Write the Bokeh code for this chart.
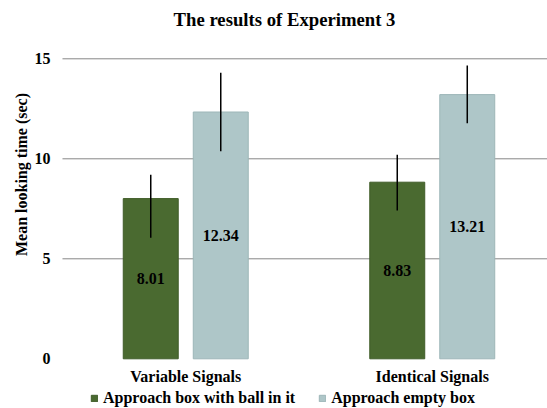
import math
from bokeh.plotting import figure
from bokeh.models import (ColumnDataSource, Range1d, FixedTicker, Label, Legend, LegendItem)
from bokeh.core.properties import value
from bokeh.embed import file_html
from bokeh.resources import INLINE

# ---- data ----
categories = ["Variable Signals", "Identical Signals"]
series_names = ["Approach box with ball in it", "Approach empty box"]
ball_means = [8.01, 8.83]
empty_means = [12.34, 13.21]
ball_err_low = [6.05, 7.42]
ball_err_high = [9.20, 10.20]
empty_err_low = [10.38, 11.78]
empty_err_high = [14.30, 14.67]
y_ticks = [0, 5, 10, 15]
grid_ticks = [5, 10, 15]

FONT = "Times"
GREEN = "#4a6a30"
GREEN_EDGE = "#3f5c28"
LIGHT = "#aec6c8"
LIGHT_EDGE = "#9db6b8"

cat_x = [i + 0.5 for i in range(len(categories))]
offset = 0.142
bar_w = 0.223

X0, X1 = -0.2515, 1.9675
Y0, Y1 = -2.485, 17.915

p = figure(width=547, height=408, output_backend="svg", toolbar_location=None,
           title_location=None,
           x_range=Range1d(X0, X1), y_range=Range1d(Y0, Y1),
           min_border_left=0, min_border_right=0, min_border_top=0, min_border_bottom=0)
p.outline_line_color = None
p.background_fill_color = "white"
p.border_fill_color = "white"
p.xgrid.visible = False
p.ygrid.visible = False

# axes placed at the data origin
p.yaxis.fixed_location = 0
p.yaxis.ticker = FixedTicker(ticks=y_ticks)
p.yaxis.axis_line_color = None
p.yaxis.major_tick_line_color = None
p.yaxis.minor_tick_line_color = None
p.yaxis.major_tick_out = 0
p.yaxis.major_tick_in = 0
p.yaxis.major_label_standoff = 12
p.yaxis.major_label_text_font = FONT
p.yaxis.major_label_text_font_style = "bold"
p.yaxis.major_label_text_font_size = "16px"
p.yaxis.major_label_text_color = "black"

p.xaxis.fixed_location = 0
p.xaxis.ticker = FixedTicker(ticks=cat_x)
p.xaxis.major_label_overrides = {x: c for x, c in zip(cat_x, categories)}
p.xaxis.axis_line_color = None
p.xaxis.major_tick_line_color = None
p.xaxis.minor_tick_line_color = None
p.xaxis.major_tick_out = 0
p.xaxis.major_tick_in = 0
p.xaxis.major_label_standoff = 9
p.xaxis.major_label_text_font = FONT
p.xaxis.major_label_text_font_style = "bold"
p.xaxis.major_label_text_font_size = "16px"
p.xaxis.major_label_text_color = "black"

# horizontal grid lines from the value axis to the right edge
p.segment(x0=[0] * len(grid_ticks), y0=grid_ticks, x1=[X1] * len(grid_ticks), y1=grid_ticks,
          line_color="#868686", line_width=1)

ball_src = ColumnDataSource(dict(
    x=[c - offset for c in cat_x], top=ball_means, mid=[v / 2 for v in ball_means],
    lab=[f"{v:.2f}" for v in ball_means], lo=ball_err_low, hi=ball_err_high))
empty_src = ColumnDataSource(dict(
    x=[c + offset for c in cat_x], top=empty_means, mid=[v / 2 for v in empty_means],
    lab=[f"{v:.2f}" for v in empty_means], lo=empty_err_low, hi=empty_err_high))

r_ball = p.vbar(x="x", top="top", bottom=0, width=bar_w, source=ball_src,
                fill_color=GREEN, line_color=GREEN_EDGE, line_width=1)
r_empty = p.vbar(x="x", top="top", bottom=0, width=bar_w, source=empty_src,
                 fill_color=LIGHT, line_color=LIGHT_EDGE, line_width=1)

for src in (ball_src, empty_src):
    p.segment(x0="x", y0="lo", x1="x", y1="hi", source=src, line_color="black", line_width=1.5)
    p.text(x="x", y="mid", text="lab", source=src, text_font=value(FONT),
           text_font_style="bold", text_font_size="16px", text_color="black",
           text_align="center", text_baseline="middle")

legend = Legend(items=[LegendItem(label=series_names[0], renderers=[r_ball]),
                       LegendItem(label=series_names[1], renderers=[r_empty])],
                orientation="horizontal", location=(90, 1),
                padding=0, margin=0, spacing=23, glyph_width=8, glyph_height=8,
                label_height=18, label_standoff=5,
                label_text_font=FONT, label_text_font_style="bold",
                label_text_font_size="16px", label_text_color="black",
                background_fill_alpha=0, border_line_color=None)
p.add_layout(legend, "center")

p.add_layout(Label(x=284, y=389, x_units="screen", y_units="screen",
                   text="The results of Experiment 3", text_font=FONT,
                   text_font_style="bold", text_font_size="18.7px", text_color="black",
                   text_align="center", text_baseline="middle"))
p.add_layout(Label(x=21, y=234, x_units="screen", y_units="screen", angle=math.pi / 2,
                   text="Mean looking time (sec)", text_font=FONT,
                   text_font_style="bold", text_font_size="16px", text_color="black",
                   text_align="center", text_baseline="middle"))

open("out.html", "w").write(file_html(p, INLINE))
